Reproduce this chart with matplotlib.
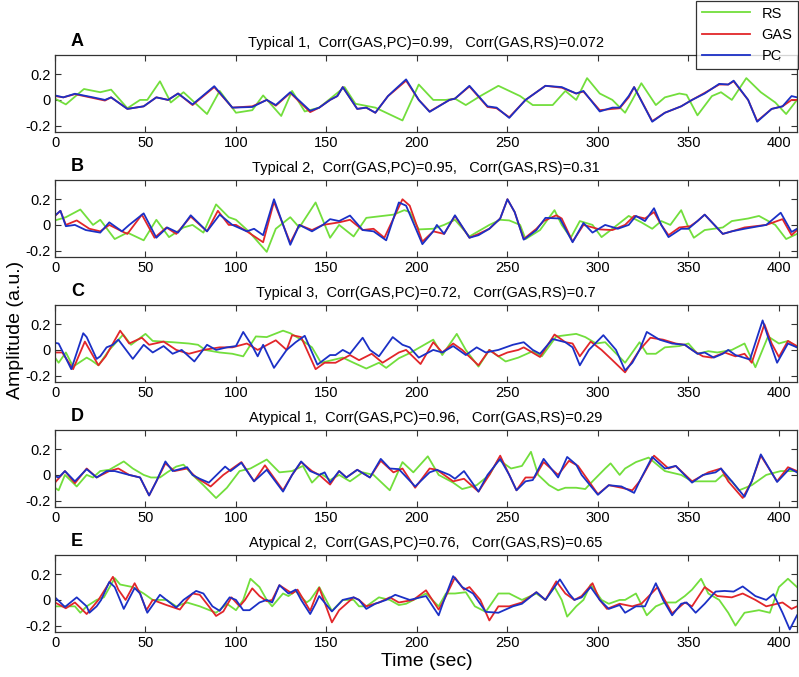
import matplotlib
matplotlib.use("Agg")
import matplotlib.pyplot as plt

plt.rcParams['font.family'] = ['Liberation Sans', 'DejaVu Sans']

# ---------------- data (time sec, amplitude a.u.) ----------------
panel_letters = ["A", "B", "C", "D", "E"]
panel_titles = [
    "Typical 1,  Corr(GAS,PC)=0.99,   Corr(GAS,RS)=0.072",
    "Typical 2,  Corr(GAS,PC)=0.95,   Corr(GAS,RS)=0.31",
    "Typical 3,  Corr(GAS,PC)=0.72,   Corr(GAS,RS)=0.7",
    "Atypical 1,  Corr(GAS,PC)=0.96,   Corr(GAS,RS)=0.29",
    "Atypical 2,  Corr(GAS,PC)=0.76,   Corr(GAS,RS)=0.65",
]
series_names = ["RS", "GAS", "PC"]
x_ticks = [0, 50, 100, 150, 200, 250, 300, 350, 400]
y_ticks = [-0.2, 0, 0.2]

A_rs = [(0,0.01),(6,-0.035),(16,0.085),(25,0.06),(31,0.08),(40,-0.065),(47,0.0),(51,0.0),(58,0.145),(64,-0.02),
        (71,0.06),(84,-0.11),(91,0.07),(100,-0.1),(109,-0.08),(115,0.035),(125,-0.125),(131,0.07),(138,-0.09),(146,-0.06),
        (160,0.1),(166,-0.03),(177,-0.06),(192,-0.16),(201,0.12),(209,0.0),(216,0.0),(221,0.01),(227,-0.04),(235,0.03),
        (245,0.11),(257,0.03),(264,-0.04),(275,-0.04),(282,0.07),(288,0.0),(294,0.17),(301,0.05),(308,0.0),(315,-0.1),
        (319,0.0),(324,0.13),(332,-0.04),(337,0.02),(345,0.05),(349,0.04),(355,-0.12),(363,0.03),(368,0.06),(374,0.0),
        (382,0.17),(390,0.06),(398,-0.02),(404,-0.11),(410,0.0)]
A_gas = [(0,0.03),(4.6,0.02),(11,0.045),(21,0.015),(27.6,-0.005),(31,0.02),(40,-0.07),(49,-0.05),(56,0.02),(62.5,0.0),
         (68,0.05),(76,-0.04),(88,0.1),(98,-0.06),(109,-0.05),(117,0.0),(122,-0.045),(130,0.055),(141,-0.095),(146,-0.06),
         (152,0.0),(156,0.03),(159,0.1),(167,-0.07),(172,-0.06),(177,-0.1),(184,0.03),(187,0.065),(194,0.15),(201,0.0),
         (207,-0.09),(218,0.0),(221,0.01),(229,0.105),(239,-0.055),(244,-0.065),(251,-0.135),(260,0.0),(271,0.11),(280,0.095),
         (288,0.05),(292,0.065),(301,-0.08),(308,-0.07),(312,-0.065),(317,0.02),(320,0.1),(330,-0.165),(337,-0.1),(346,-0.05),
         (352,0.0),(359,0.055),(367,0.12),(372,0.12),(375,0.145),(383,0.0),(388,-0.165),(396,-0.07),(402,-0.05),(407,0.0),(410,0.0)]
A_pc = [(0,0.035),(4.6,0.02),(11,0.048),(21,0.02),(27.6,0.0),(31,0.02),(40,-0.07),(49,-0.05),(56,0.02),(62.5,0.0),
        (68,0.05),(76,-0.035),(88,0.107),(98,-0.06),(109,-0.055),(117,0.0),(122,-0.04),(130,0.06),(141,-0.085),(146,-0.06),
        (152,0.0),(156,0.03),(159,0.1),(167,-0.07),(172,-0.06),(177,-0.1),(184,0.03),(187,0.07),(194,0.16),(201,0.0),
        (207,-0.093),(218,0.0),(221,0.01),(229,0.11),(239,-0.05),(244,-0.06),(251,-0.14),(260,0.0),(271,0.11),(280,0.1),
        (288,0.05),(292,0.07),(301,-0.09),(308,-0.06),(312,-0.06),(317,0.03),(320,0.1),(330,-0.17),(337,-0.1),(346,-0.05),
        (352,0.0),(359,0.05),(367,0.125),(372,0.12),(375,0.15),(383,0.0),(388,-0.17),(396,-0.07),(402,-0.05),(407,0.03),(410,0.02)]

B_rs = [(0,0.035),(6,0.06),(14,0.12),(21,0.0),(25,0.04),(33,-0.11),(40,-0.06),(49,-0.12),(56,0.04),(63,-0.095),
        (71,-0.02),(76,0.0),(82,-0.06),(89,0.16),(96,0.06),(100,0.04),(107,-0.05),(117,-0.21),(122,-0.03),(130,0.06),
        (135,-0.02),(144,0.175),(152,-0.1),(157,0.0),(165,-0.09),(172,0.055),(187,0.08),(193,0.115),(196,0.1),(201,-0.035),
        (209,-0.03),(215,0.0),(221,0.04),(229,-0.09),(240,0.0),(246,0.04),(251,0.035),(257,0.0),(260,-0.11),(268,-0.04),
        (276,0.115),(280,0.0),(285,-0.1),(290,0.03),(297,0.0),(302,-0.095),(308,-0.03),(317,0.07),(324,0.02),(330,-0.03),
        (335,0.03),(340,0.0),(346,0.115),(350,-0.02),(353,-0.1),(359,-0.04),(369,-0.02),(374,0.03),(383,0.05),(389,0.07),
        (398,0.0),(404,-0.11),(410,-0.07)]
B_gas = [(0,0.07),(3,0.11),(6,0.0),(12,0.035),(19,-0.03),(25,-0.05),(30,0.0),(37,-0.05),(40,-0.07),(48,0.08),
         (55,-0.1),(61.6,-0.02),(67,-0.07),(75,0.065),(84,-0.05),(90,0.11),(96,0.0),(100,0.0),(106,-0.05),(115,-0.135),
         (121,0.18),(130,-0.14),(135,0.0),(142,-0.04),(148,0.0),(157,0.02),(163,0.04),(170,-0.04),(176,-0.03),(182,-0.1),
         (192,0.2),(196,0.15),(203,-0.13),(209,-0.05),(215,-0.07),(221,0.07),(229,-0.1),(234,-0.07),(240,-0.03),(246,0.05),
         (250,0.2),(254,0.1),(259,-0.11),(266,-0.03),(270,0.03),(277,0.075),(280,0.05),(286,-0.13),(292,0.0),(301,-0.035),
         (308,-0.04),(315,0.0),(320,0.07),(326,0.05),(331,0.1),(335,0.0),(339,-0.08),(345,-0.02),(351,-0.01),(355,0.03),
         (359,0.08),(369,-0.07),(374,-0.05),(381,-0.02),(393,0.0),(402,0.045),(407,-0.08),(410,-0.04)]
B_pc = [(0,0.073),(3,0.11),(6,-0.01),(11,0.0),(17,-0.04),(25,-0.06),(30,0.02),(37,-0.05),(41,0.0),(49,0.09),
        (56,-0.1),(62,-0.02),(68,-0.06),(75,0.075),(84,-0.05),(91,0.08),(98,0.0),(106,-0.05),(110,-0.03),(115,-0.08),
        (121,0.2),(130,-0.155),(135,0.0),(142,-0.05),(148,0.0),(152,0.045),(157,0.03),(163,0.073),(170,-0.04),(176,-0.05),
        (183,-0.12),(190,0.175),(194,0.15),(203,-0.15),(209,-0.05),(211,0.0),(215,-0.07),(221,0.075),(229,-0.1),(234,-0.08),
        (240,-0.03),(246,0.05),(250,0.2),(254,0.1),(259,-0.115),(266,-0.04),(271,0.055),(279,0.05),(286,-0.135),(292,0.015),
        (297,-0.06),(304,0.0),(311,-0.03),(317,0.0),(321,0.07),(326,0.03),(331,0.13),(335,0.0),(339,-0.095),(346,-0.03),
        (350,-0.03),(355,0.03),(359,0.08),(369,-0.07),(374,-0.05),(381,-0.03),(393,0.0),(401,0.095),(407,-0.055),(410,-0.03)]

C_rs = [(0,-0.06),(2,-0.1),(6,-0.02),(10,-0.13),(17.5,-0.06),(20,-0.08),(24,-0.12),(30,0.0),(37.7,0.12),(42,0.04),
        (50,0.125),(54,0.07),(65,0.06),(74,0.05),(79,0.04),(83,0.0),(91,-0.02),(98,-0.03),(104,-0.05),(111,0.105),
        (117,0.1),(126,0.15),(130,0.13),(136,0.08),(142,0.02),(147,-0.1),(153,-0.08),(159,-0.06),(165,-0.1),(172,-0.145),
        (179,-0.1),(183,-0.14),(190,-0.065),(196,-0.025),(209,0.08),(214,-0.04),(222,0.125),(227,0.0),(234,-0.13),(240,0.0),
        (249,-0.09),(256,-0.06),(264,-0.01),(269,-0.05),(277,0.105),(288,0.125),(293,0.1),(299,0.05),(304,0.06),(315,-0.1),
        (323,0.06),(327,-0.03),(332,-0.03),(337,0.02),(345,0.03),(350,0.05),(355,-0.03),(361,-0.01),(366,-0.02),(374,0.0),
        (381,0.05),(387,-0.135),(394,0.105),(400,0.05),(405,0.07),(410,0.02)]
C_gas = [(0,-0.02),(4,-0.02),(10,-0.15),(16.5,0.065),(24,-0.12),(28,-0.05),(36,0.15),(41,0.05),(48,0.095),(52,0.04),
         (60,0.065),(67,0.0),(74,-0.03),(82,0.0),(91,0.02),(98,0.02),(106,0.05),(112,0.0),(122,0.075),(128,0.0),
         (131,0.115),(136,0.1),(144,-0.15),(149,-0.1),(155,-0.1),(163,-0.04),(168,-0.08),(175,-0.03),(181,-0.1),(190,-0.02),
         (194,0.0),(202,-0.11),(209,0.06),(214,-0.02),(220,0.05),(225,0.0),(234,-0.12),(240,0.0),(245,-0.05),(250,-0.02),
         (256,0.0),(259,0.02),(268,-0.055),(276,0.12),(282,0.06),(286,0.05),(290,-0.05),(296,0.065),(302,0.0),(308,-0.08),
         (315,-0.175),(323,0.0),(329,0.095),(336,0.08),(343,0.05),(348,0.04),(352,0.0),(358,-0.05),(363,-0.06),(370,-0.02),
         (376,-0.05),(381,-0.03),(385,-0.1),(392,0.2),(396,0.05),(400,-0.055),(405,0.07),(410,0.03)]
C_pc = [(0,0.055),(2,0.05),(9,-0.15),(15.6,0.13),(17.5,0.1),(23,-0.07),(25,-0.05),(28.5,0.02),(32,0.04),(35,0.08),
        (43,-0.07),(49,0.04),(54,-0.02),(60,0.03),(65,-0.03),(70,0.0),(77,-0.09),(84,0.04),(89,0.0),(95,0.02),
        (100,0.03),(104,0.14),(109,0.03),(112,-0.05),(115,0.04),(121,-0.14),(128,0.0),(133,0.06),(138,0.11),(145,-0.115),
        (152,-0.04),(155,-0.04),(159,0.0),(163,-0.03),(170,0.095),(174,0.0),(179,-0.05),(186.6,0.1),(192,0.04),(196,0.02),
        (201,-0.06),(209,0.0),(214,-0.02),(220,0.03),(227,-0.04),(233,0.02),(238,-0.02),(245,0.0),(253,0.04),(259,0.06),
        (264,0.0),(268,-0.03),(275,0.085),(282,0.06),(286,0.02),(288,-0.05),(290,-0.12),(295,0.0),(303,0.115),(310,0.0),
        (315,-0.16),(319,-0.1),(323,0.0),(327,0.14),(334,0.08),(341,0.05),(348,0.04),(352,0.0),(355,-0.03),(359,-0.02),
        (364,-0.06),(369,-0.03),(372,0.0),(376,-0.04),(384,-0.075),(391,0.23),(394,0.1),(399,-0.1),(403,0.0),(405,0.05),(410,0.02)]

D_rs = [(0,-0.1),(2,-0.12),(5.5,0.0),(12,-0.09),(17.5,0.0),(21,-0.02),(25,0.03),(30,0.04),(38,0.105),(43,0.05),
        (49,0.0),(53,-0.02),(58,-0.02),(62,0.02),(67,0.065),(71,0.08),(76,0.0),(82,-0.08),(89,-0.18),(95,-0.1),
        (102,0.03),(108,0.05),(117,0.12),(124,0.02),(131,0.03),(137,0.07),(142,-0.06),(147,0.01),(152,-0.04),(157,0.0),
        (163,-0.05),(170,0.02),(176,0.0),(185,-0.12),(192,0.1),(198,0.02),(206,0.145),(212,0.0),(220,-0.06),(225,-0.11),
        (233,-0.08),(240,0.0),(245,0.12),(252,0.05),(258,0.07),(263,0.18),(267,0.0),(273,-0.08),(278,-0.12),(282,-0.1),
        (288,-0.1),(293,-0.11),(297,-0.05),(304,0.05),(307,0.09),(312,0.0),(315,0.05),(321,0.1),(328,0.135),(337,0.03),
        (346,0.0),(352,-0.05),(365,-0.05),(369,0.0),(374,-0.05),(378,-0.12),(385,-0.08),(393,0.0),(401,0.03),(410,0.03)]
D_gas = [(0,-0.06),(5.5,0.03),(11,-0.065),(17.5,0.05),(23,-0.02),(30,0.03),(35,0.05),(41,0.0),(47,-0.02),(52,-0.16),
         (56,-0.05),(61,0.09),(66,0.03),(73,0.05),(78,-0.02),(86,-0.09),(93,0.0),(96,0.03),(103,0.1),(110,-0.05),
         (116,0.075),(126,-0.12),(131,0.0),(136,0.1),(142,0.03),(146,0.0),(152,-0.075),(157,0.03),(161,-0.02),(167,0.04),
         (174,-0.02),(180,0.11),(187,0.02),(192,0.05),(199,-0.1),(207,0.05),(211,0.04),(215,0.0),(220,-0.05),(226,-0.03),
         (234,-0.13),(240,0.0),(246,0.15),(251,0.0),(255,-0.12),(260,-0.02),(265,-0.02),(270,0.1),(278,0.0),(284,0.11),
         (289,0.07),(300,-0.15),(306,-0.08),(313,-0.1),(319,-0.12),(323,-0.05),(331,0.15),(339,0.05),(343,0.07),(352,-0.05),
         (361,0.02),(368,0.05),(372,-0.05),(380,-0.18),(385,-0.05),(390,0.15),(399,-0.05),(405,0.06),(410,0.03)]
D_pc = [(0,-0.01),(2,-0.02),(5.5,0.03),(11,-0.05),(17.5,0.045),(23,-0.02),(28.5,0.03),(33,0.03),(41,0.0),(47,-0.02),
        (52,-0.16),(56,-0.05),(61,0.105),(65,0.03),(73,0.06),(76,0.0),(80,-0.03),(85,-0.06),(94,0.065),(97,0.03),
        (103,0.095),(107.5,0.0),(110,-0.05),(117,0.04),(126,-0.13),(131,0.0),(136,0.105),(141,0.03),(146,0.0),(149,0.02),
        (152,-0.06),(157,0.03),(161,-0.02),(167,0.04),(174,-0.02),(180,0.125),(185,0.05),(190,0.045),(199,-0.09),(207,0.02),
        (211,0.04),(218,0.0),(221,-0.03),(226,0.03),(234,-0.13),(239,0.0),(246,0.125),(251,0.0),(255,-0.12),(260,-0.05),
        (264,-0.04),(270,0.125),(278,-0.02),(283,0.14),(288,0.08),(291,0.0),(300,-0.155),(306,-0.08),(313,-0.09),(320,-0.14),
        (323,-0.05),(330,0.14),(337,0.05),(343,0.07),(352,-0.06),(358,0.0),(365,0.02),(368,0.05),(374,-0.05),(381,-0.17),
        (385,-0.05),(390,0.16),(399,-0.055),(406,0.05),(410,0.02)]

E_rs = [(0,-0.05),(6,-0.05),(11,-0.05),(14,-0.1),(17.5,-0.05),(23,0.0),(27,0.02),(33,0.17),(36,0.12),(43,0.1),
        (49,0.05),(54,0.0),(61.6,0.0),(67,-0.05),(73,-0.02),(80,-0.05),(89,-0.1),(95,-0.03),(100,-0.08),(104,0.0),
        (108,0.165),(113,0.1),(117,0.0),(120,-0.05),(126,0.05),(129,0.03),(133,0.07),(139,-0.02),(141,0.0),(146,0.1),
        (153,-0.085),(159,0.0),(165,0.0),(168,-0.05),(172,-0.05),(179,0.02),(185,0.0),(190,-0.04),(194,-0.03),(205,0.05),
        (212,-0.05),(216,0.05),(221,0.05),(227,0.06),(232,-0.05),(238,-0.093),(245,0.05),(251,0.05),(258,0.0),(266,0.05),
        (271,0.0),(276,0.1),(280,0.0),(283,-0.13),(288,-0.05),(292,0.0),(296,0.12),(302,0.0),(306,-0.03),(312,0.0),
        (315,0.0),(321,0.05),(327,-0.12),(332,-0.05),(337,-0.02),(343,-0.02),(348,0.03),(352,0.08),(357,0.165),(361,0.05),
        (367,0.0),(372,-0.1),(376,-0.2),(381,-0.1),(389,-0.08),(395,-0.1),(400,0.1),(405,0.165),(410,0.1)]
E_gas = [(0,-0.02),(6,-0.065),(11,-0.02),(17.5,-0.11),(24,0.0),(32,0.18),(35,0.08),(39,0.0),(44,0.13),(47,0.05),
         (50.5,-0.08),(54,0.0),(61.6,-0.04),(69,-0.075),(73,0.0),(76,0.05),(80,0.04),(85,-0.05),(89,-0.125),(93,-0.09),
         (97.5,0.02),(102,-0.05),(105,0.0),(109,0.09),(113,0.03),(117,-0.01),(120,0.0),(124,0.115),(131,0.05),(134,0.08),
         (141,-0.085),(146,0.095),(153,-0.175),(157,-0.08),(165,0.02),(168,0.0),(172,-0.05),(179,-0.02),(185,0.02),(190,-0.02),
         (198,0.0),(205,0.075),(212,-0.075),(215,0.0),(221,0.175),(226,0.08),(229,0.1),(235,0.0),(240,-0.16),(245,-0.05),
         (251,-0.05),(258,-0.02),(266,0.06),(271,0.0),(277,0.145),(282,0.05),(287,0.0),(291,0.03),(297,0.13),(301,0.0),
         (305,-0.07),(312,-0.03),(319,-0.05),(324,-0.03),(333,0.1),(341,-0.105),(348,-0.02),(352,-0.05),(359,0.1),(366,0.03),
         (374,0.02),(380,0.05),(387,0.0),(393,-0.05),(402,-0.02),(407,-0.07),(410,-0.05)]
E_pc = [(0,0.02),(5.5,-0.055),(12,0.02),(17.5,-0.05),(19,-0.1),(23,-0.05),(25.5,0.0),(30,0.14),(33,0.1),(38,-0.07),
        (44,0.093),(47,0.05),(51,-0.1),(58,0.04),(61.6,0.0),(67,-0.06),(71,0.0),(78,0.07),(82,0.05),(87,-0.05),
        (91,-0.085),(96.5,0.02),(100,0.0),(104,-0.08),(107.5,-0.08),(113,-0.02),(117,0.0),(120,-0.02),(124,0.115),(129,0.05),
        (133,0.08),(136,0.0),(141,-0.11),(144,-0.03),(146,0.03),(153,-0.09),(159,0.0),(165,0.02),(168,0.0),(172,-0.07),
        (177,-0.03),(183,0.0),(188,0.04),(196,0.0),(205,0.03),(212,-0.12),(215,0.0),(220,0.185),(225,0.1),(231,0.05),
        (238,-0.093),(245,-0.1),(253,-0.05),(258,-0.03),(266,0.06),(271,0.0),(279,0.16),(284,0.05),(287,0.0),(291,0.02),
        (296,0.1),(301,0.0),(306,-0.07),(312,-0.04),(315,-0.1),(321,-0.05),(326,-0.05),(332,0.13),(336,0.0),(341,-0.12),
        (346,-0.03),(349,-0.02),(354,-0.1),(359,-0.03),(365,0.065),(370,0.07),(375,0.065),(380,0.105),(387,0.03),(393,0.0),
        (397,0.045),(402,-0.1),(406,-0.23),(410,-0.12)]

panels = [(A_rs, A_gas, A_pc), (B_rs, B_gas, B_pc), (C_rs, C_gas, C_pc),
          (D_rs, D_gas, D_pc), (E_rs, E_gas, E_pc)]

# ---------------- styling ----------------
colors = ["#72DE3C", "#E2262A", "#1B30C6"]
W, H = 799, 677
fig = plt.figure(figsize=(W / 100, H / 100), dpi=100)

ax_left, ax_right = 55, 797
ax_h = 77
tops = [55, 180, 305, 430, 555]

axes = []
for i, top in enumerate(tops):
    ax = fig.add_axes([ax_left / W, 1 - (top + ax_h) / H, (ax_right - ax_left) / W, ax_h / H])
    axes.append(ax)
    for s, (series, c) in enumerate(zip(panels[i], colors)):
        t, v = zip(*series)
        ax.plot(t, v, color=c, lw=1.3, label=series_names[s], solid_joinstyle='round')
    ax.set_xlim(0, 410)
    ax.set_ylim(-0.25, 0.35)
    ax.set_xticks(x_ticks)
    ax.set_yticks(y_ticks)
    ax.set_yticklabels(["-0.2", "0", "0.2"])
    ax.tick_params(direction='in', top=True, right=True, length=4, width=0.8,
                   labelsize=10.5, pad=3, color='#333333')
    for sp in ax.spines.values():
        sp.set_color('#333333')
        sp.set_linewidth(0.9)
    ax.set_title(panel_titles[i], fontsize=10.5, pad=6)
    ax.text(0.03, 1.06, panel_letters[i], transform=ax.transAxes, fontsize=13,
            fontweight='bold', ha='center', va='bottom')

fig.text(16 / W, 1 - 330 / H, "Amplitude (a.u.)", rotation=90, fontsize=14,
         ha='center', va='center')
fig.text(427 / W, 1 - 662 / H, "Time (sec)", fontsize=14, ha='center', va='center')

handles, labels = axes[0].get_legend_handles_labels()
leg = fig.legend(handles, labels, loc='upper right', bbox_to_anchor=(0.999, 0.999),
                 fontsize=10.5, frameon=True, fancybox=False, edgecolor='black',
                 handlelength=3.3, borderaxespad=0, labelspacing=0.5, borderpad=0.4)
leg.get_frame().set_linewidth(0.9)

fig.savefig("out.png", dpi=100)
